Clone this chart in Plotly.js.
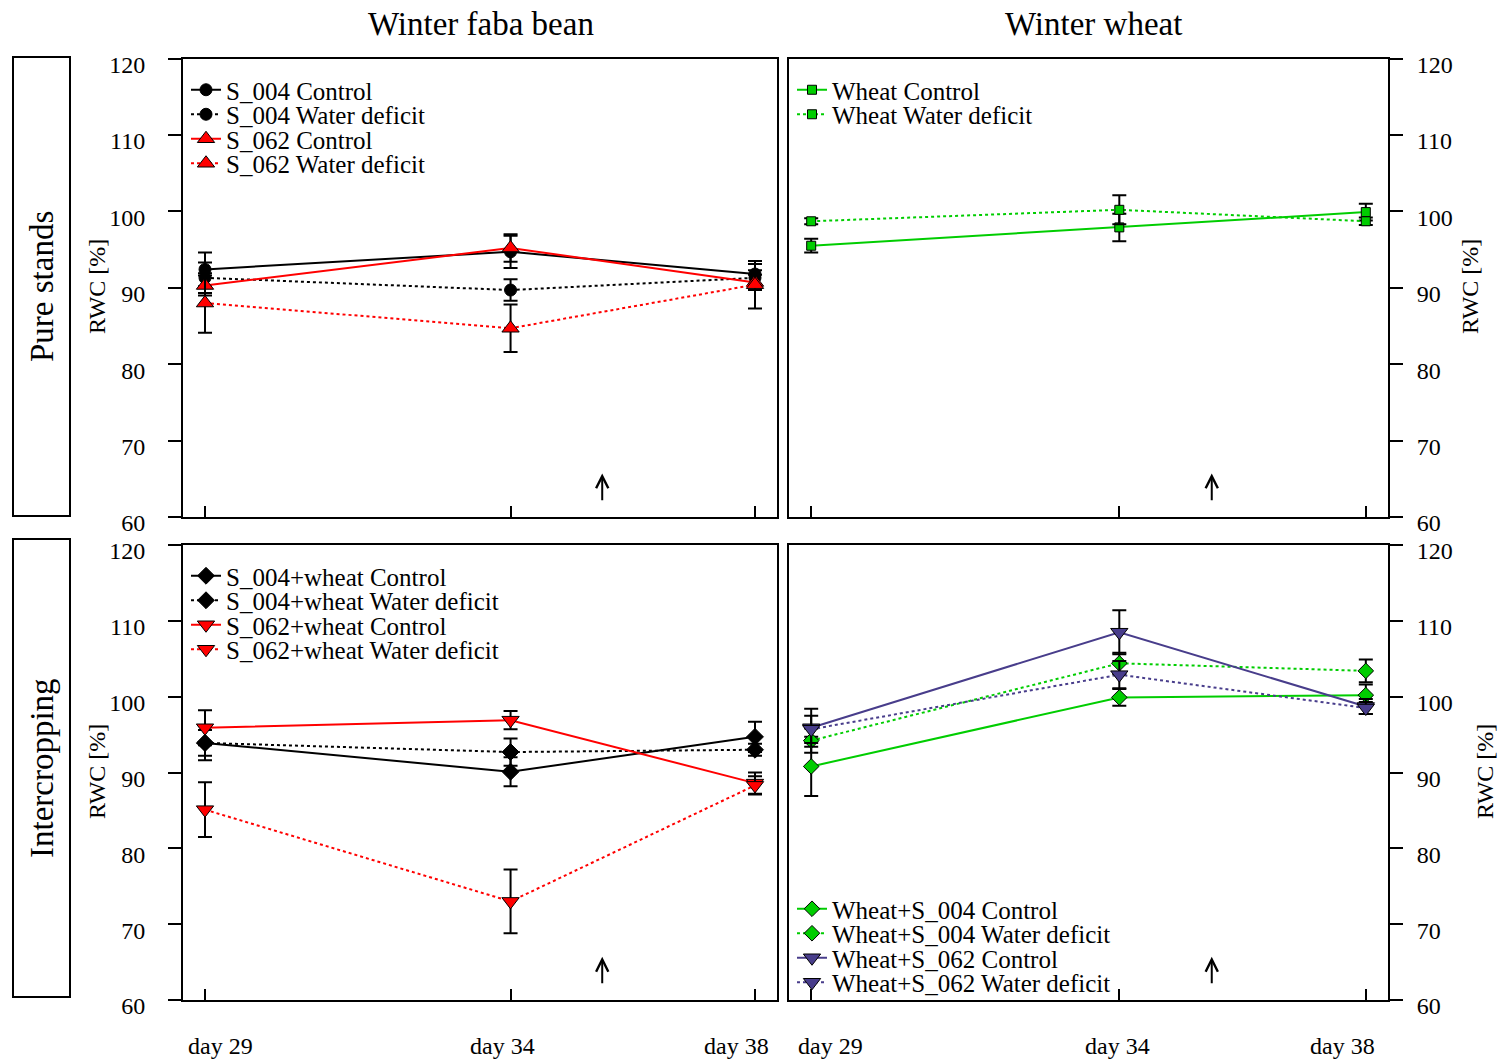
<!DOCTYPE html>
<html>
<head>
<meta charset="utf-8">
<script src="https://cdn.plot.ly/plotly-3.0.1.min.js"></script>
<style>html,body{margin:0;padding:0;background:#fff;}</style>
</head>
<body>
<div id="chart" style="width:1501px;height:1063px;"></div>
<script>
// Relative water content (RWC, %) of faba bean and wheat, pure stands vs. intercropping
const days = [29, 34, 38];
const dayLabels = ['day 29', 'day 34', 'day 38'];
const yTicks = [60, 70, 80, 90, 100, 110, 120];
const rewateringDay = 35.5;
const arrowSpan = [62.0, 65.7];

// Winter faba bean, pure stands
const s004Control = [92.4, 94.7, 91.8];
const s004ControlErr = [2.2, 2.1, 1.3];
const s004Deficit = [91.3, 89.7, 91.3];
const s004DeficitErr = [2.0, 1.4, 1.0];
const s062Control = [90.3, 95.2, 90.7];
const s062ControlErr = [1.3, 1.8, 1.0];
const s062Deficit = [88.0, 84.7, 90.4];
const s062DeficitErr = [3.9, 3.1, 3.1];

// Winter wheat, pure stands
const wheatControl = [95.5, 97.9, 99.9];
const wheatControlErr = [0.9, 1.8, 1.1];
const wheatDeficit = [98.7, 100.2, 98.7];
const wheatDeficitErr = [0.4, 1.9, 0.5];

// Winter faba bean, intercropped with wheat
const s004wControl = [93.9, 90.1, 94.7];
const s004wControlErr = [2.3, 1.9, 2.0];
const s004wDeficit = [93.9, 92.7, 93.0];
const s004wDeficitErr = [1.7, 1.8, 0.8];
const s062wControl = [95.9, 96.9, 88.6];
const s062wControlErr = [2.3, 1.2, 1.4];
const s062wDeficit = [85.1, 73.0, 88.3];
const s062wDeficitErr = [3.6, 4.2, 1.2];

// Winter wheat, intercropped with faba bean
const wS004Control = [90.8, 99.9, 100.2];
const wS004ControlErr = [3.9, 1.1, 1.4];
const wS004Deficit = [94.2, 104.4, 103.4];
const wS004DeficitErr = [1.6, 1.4, 1.5];
const wS062Control = [95.9, 108.5, 98.7];
const wS062ControlErr = [2.5, 2.9, 1.0];
const wS062Deficit = [95.7, 102.9, 98.5];
const wS062DeficitErr = [1.8, 1.8, 0.8];

const FONT = 'Liberation Serif, Times New Roman, serif';
const W = 1501, H = 1063;
const px = v => v / W;
const py = v => 1 - v / H;

const BLACK = '#000000', RED = '#ff0000', GREEN = '#00cd00', PURPLE = '#483d8b';

function series(name, y, err, color, dash, symbol, size, xa, ya, legendId) {
  return {
    type: 'scatter', mode: 'lines+markers', name: name,
    x: days, y: y, xaxis: xa, yaxis: ya, legend: legendId,
    line: {color: color, width: 2, dash: dash},
    marker: {symbol: symbol, size: size, color: color, line: {color: BLACK, width: 1}},
    error_y: {type: 'data', array: err, visible: true, color: BLACK, thickness: 2, width: 7}
  };
}

const traces = [
  series('S_004 Control', s004Control, s004ControlErr, BLACK, 'solid', 'circle', 12, 'x', 'y', 'legend'),
  series('S_004 Water deficit', s004Deficit, s004DeficitErr, BLACK, 'dot', 'circle', 12, 'x', 'y', 'legend'),
  series('S_062 Control', s062Control, s062ControlErr, RED, 'solid', 'triangle-up', 15, 'x', 'y', 'legend'),
  series('S_062 Water deficit', s062Deficit, s062DeficitErr, RED, 'dot', 'triangle-up', 15, 'x', 'y', 'legend'),

  series('Wheat Control', wheatControl, wheatControlErr, GREEN, 'solid', 'square', 9, 'x2', 'y2', 'legend2'),
  series('Wheat Water deficit', wheatDeficit, wheatDeficitErr, GREEN, 'dot', 'square', 9, 'x2', 'y2', 'legend2'),

  series('S_004+wheat Control', s004wControl, s004wControlErr, BLACK, 'solid', 'diamond', 13, 'x3', 'y3', 'legend3'),
  series('S_004+wheat Water deficit', s004wDeficit, s004wDeficitErr, BLACK, 'dot', 'diamond', 13, 'x3', 'y3', 'legend3'),
  series('S_062+wheat Control', s062wControl, s062wControlErr, RED, 'solid', 'triangle-down', 15, 'x3', 'y3', 'legend3'),
  series('S_062+wheat Water deficit', s062wDeficit, s062wDeficitErr, RED, 'dot', 'triangle-down', 15, 'x3', 'y3', 'legend3'),

  series('Wheat+S_004 Control', wS004Control, wS004ControlErr, GREEN, 'solid', 'diamond', 12, 'x4', 'y4', 'legend4'),
  series('Wheat+S_004 Water deficit', wS004Deficit, wS004DeficitErr, GREEN, 'dot', 'diamond', 12, 'x4', 'y4', 'legend4'),
  series('Wheat+S_062 Control', wS062Control, wS062ControlErr, PURPLE, 'solid', 'triangle-down', 15, 'x4', 'y4', 'legend4'),
  series('Wheat+S_062 Water deficit', wS062Deficit, wS062DeficitErr, PURPLE, 'dot', 'triangle-down', 15, 'x4', 'y4', 'legend4')
];

// x range padded by 4% on each side of the sampled days
const xPad = 0.04 * (days[days.length - 1] - days[0]);
const xRange = [days[0] - xPad, days[days.length - 1] + xPad];

const leftCol = [px(183), px(777)];
const rightCol = [px(789), px(1388)];
const topRow = [py(517), py(58.5)];
const bottomRow = [py(1000), py(545)];

function xAxis(domain, anchor) {
  return {
    domain: domain, anchor: anchor, range: xRange,
    showline: true, mirror: true, linecolor: BLACK, linewidth: 2,
    ticks: 'inside', ticklen: 11, tickwidth: 2, tickcolor: BLACK,
    tickvals: days, showticklabels: false,
    showgrid: false, zeroline: false, fixedrange: true
  };
}
function yAxis(domain, anchor, side) {
  return {
    domain: domain, anchor: anchor, side: side, range: [60, 120],
    tickvals: yTicks, ticktext: yTicks.map(String),
    ticks: 'outside', ticklen: 13, tickwidth: 2, tickcolor: BLACK,
    showline: true, mirror: true, linecolor: BLACK, linewidth: 2,
    showgrid: false, zeroline: false, fixedrange: true,
    tickfont: {family: FONT, size: 24, color: BLACK},
    ticklabelstandoff: side === 'left' ? 18 : 9,
    ticklabelshift: 6
  };
}

function legendAt(xPix, yTopPix) {
  return {
    x: px(xPix), y: py(yTopPix), xanchor: 'left', yanchor: 'top',
    font: {family: FONT, size: 25, color: BLACK},
    bgcolor: 'rgba(0,0,0,0)', borderwidth: 0, traceorder: 'normal'
  };
}

const annotations = [];
function text(t, x, y, size, angle) {
  annotations.push({
    text: t, xref: 'paper', yref: 'paper', x: px(x), y: py(y),
    xanchor: 'center', yanchor: 'middle', showarrow: false, textangle: angle || 0,
    font: {family: FONT, size: size, color: BLACK}
  });
}
text('Winter faba bean', 481, 24, 33);
text('Winter wheat', 1093, 24, 33);
text('Pure stands', 42, 287, 33, -90);
text('Intercropping', 42, 768, 33, -90);
text('RWC [%]', 97, 287, 24, -90);
text('RWC [%]', 97, 772, 24, -90);
text('RWC [%]', 1470, 287, 24, -90);
text('RWC [%]', 1485, 772, 24, -90);

// day labels under the bottom row
const dayLabelShiftLeft = [15, -8, -19];
const dayLabelShiftRight = [19, -2, -23];
days.forEach((d, i) => {
  annotations.push({text: dayLabels[i], xref: 'x3', yref: 'paper', x: d, y: py(1046),
    xshift: dayLabelShiftLeft[i], xanchor: 'center', yanchor: 'middle', showarrow: false,
    font: {family: FONT, size: 24, color: BLACK}});
  annotations.push({text: dayLabels[i], xref: 'x4', yref: 'paper', x: d, y: py(1046),
    xshift: dayLabelShiftRight[i], xanchor: 'center', yanchor: 'middle', showarrow: false,
    font: {family: FONT, size: 24, color: BLACK}});
});

// re-watering arrows in every panel
[['x', 'y'], ['x2', 'y2'], ['x3', 'y3'], ['x4', 'y4']].forEach(([xa, ya]) => {
  annotations.push({
    text: '', xref: xa, yref: ya, axref: xa, ayref: ya,
    x: rewateringDay, y: arrowSpan[1], ax: rewateringDay, ay: arrowSpan[0],
    showarrow: true, arrowhead: 5, arrowsize: 1.2, arrowwidth: 2, arrowcolor: BLACK
  });
});

const shapes = [
  {type: 'rect', xref: 'paper', yref: 'paper', x0: px(13), x1: px(70), y0: py(516), y1: py(57),
   line: {color: BLACK, width: 2}},
  {type: 'rect', xref: 'paper', yref: 'paper', x0: px(13), x1: px(70), y0: py(997), y1: py(539),
   line: {color: BLACK, width: 2}}
];

const layout = {
  width: W, height: H,
  margin: {l: 0, r: 0, t: 0, b: 0},
  paper_bgcolor: '#ffffff', plot_bgcolor: '#ffffff',
  font: {family: FONT, color: BLACK},
  showlegend: true,
  xaxis: xAxis(leftCol, 'y'),
  yaxis: yAxis(topRow, 'x', 'left'),
  xaxis2: xAxis(rightCol, 'y2'),
  yaxis2: yAxis(topRow, 'x2', 'right'),
  xaxis3: xAxis(leftCol, 'y3'),
  yaxis3: yAxis(bottomRow, 'x3', 'left'),
  xaxis4: xAxis(rightCol, 'y4'),
  yaxis4: yAxis(bottomRow, 'x4', 'right'),
  legend: legendAt(186, 67),
  legend2: legendAt(792, 67),
  legend3: legendAt(186, 553),
  legend4: legendAt(792, 886),
  annotations: annotations,
  shapes: shapes
};

const LEGEND_ROW = 24.5;
const gd = document.getElementById('chart');
Plotly.newPlot(gd, traces, layout, {staticPlot: true, displayModeBar: false}).then(() => {
  // compact legend rows
  ['legend', 'legend2', 'legend3', 'legend4'].forEach(id => {
    const items = gd.querySelectorAll('g.' + id + ' g.traces');
    if (!items.length) return;
    const m = /translate\(\s*([-\d.e]+)[\s,]+([-\d.e]+)\s*\)/.exec(items[0].getAttribute('transform') || '');
    if (!m) return;
    const x0 = parseFloat(m[1]), y0 = parseFloat(m[2]);
    items.forEach((el, i) => el.setAttribute('transform', 'translate(' + x0 + ',' + (y0 + i * LEGEND_ROW) + ')'));
  });
});
</script>
</body>
</html>
